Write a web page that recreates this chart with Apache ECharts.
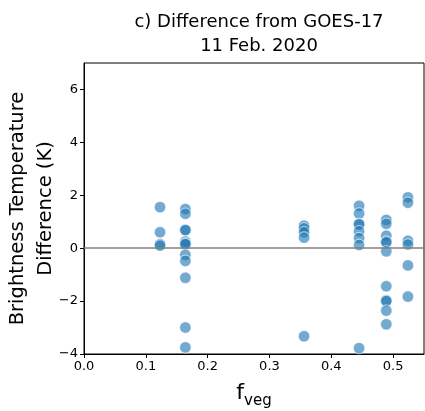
<!DOCTYPE html>
<html>
<head>
<meta charset="utf-8">
<script src="https://cdn.jsdelivr.net/npm/echarts@6/dist/echarts.min.js"></script>
<style>html,body{margin:0;padding:0;background:#fff}#c{width:425px;height:411px}</style>
</head>
<body>
<div id="c"></div>
<script>
// f_veg value of each site column
const fvegCols = [0.123, 0.164, 0.356, 0.445, 0.489, 0.524];
// Brightness temperature difference (K) at each column
const diffCol1 = [1.55, 0.60, 0.15, 0.10];
const diffCol2 = [1.48, 1.30, 0.70, 0.68, 0.25, 0.18, 0.15, -0.25, -0.48, -1.12, -3.00, -3.75];
const diffCol3 = [0.85, 0.75, 0.60, 0.40, -3.33];
const diffCol4 = [1.60, 1.31, 0.92, 0.90, 0.64, 0.38, 0.12, -3.78];
const diffCol5 = [1.07, 0.92, 0.47, 0.25, 0.22, -0.12, -1.44, -1.97, -2.00, -2.36, -2.88];
const diffCol6 = [1.92, 1.72, 0.28, 0.14, -0.65, -1.83];
const diffCols = [diffCol1, diffCol2, diffCol3, diffCol4, diffCol5, diffCol6];
const xTicks = [0.0, 0.1, 0.2, 0.3, 0.4, 0.5];
const yTicks = [-4, -2, 0, 2, 4, 6];

const points = [];
diffCols.forEach((col, i) => col.forEach(v => points.push([fvegCols[i], v])));

const font = 'DejaVu Sans';
const fmtMinus = s => String(s).replace('-', '\u2212');
const chart = echarts.init(document.getElementById('c'), null, {renderer: 'canvas'});
chart.setOption({
  animation: false,
  title: {
    text: 'c) Difference from GOES-17\n11 Feb. 2020',
    left: 254, top: 5, textAlign: 'center',
    textStyle: {fontFamily: font, fontSize: 18, fontWeight: 'normal', color: '#000', lineHeight: 24}
  },
  grid: {left: 84, right: 1, top: 63, bottom: 57, containLabel: false, outerBoundsMode: 'none',
    show: true, borderColor: '#000', borderWidth: 1, backgroundColor: 'transparent'},
  xAxis: {
    type: 'value', min: 0, max: 0.55, interval: 0.1,
    axisLine: {show: true, onZero: false, lineStyle: {color: '#000', width: 1}},
    axisTick: {show: true, length: 4, lineStyle: {color: '#000'}},
    splitLine: {show: false},
    axisLabel: {showMaxLabel: false, fontFamily: font, fontSize: 13, color: '#000', margin: 6,
      formatter: v => xTicks.some(t => Math.abs(t - v) < 1e-9) ? v.toFixed(1) : ''},
    name: '{a|f}{b|veg}', nameLocation: 'middle', nameGap: 24, nameMoveOverlap: false,
    nameTextStyle: {rich: {
      a: {fontFamily: font, fontSize: 22, color: '#000', verticalAlign: 'bottom', lineHeight: 26},
      b: {fontFamily: font, fontSize: 15, color: '#000', verticalAlign: 'bottom', lineHeight: 15, padding: [0, 0, -5, 0]}
    }}
  },
  yAxis: {
    type: 'value', min: -4, max: 7, interval: 2,
    axisLine: {show: true, onZero: false, lineStyle: {color: '#000', width: 1}},
    axisTick: {show: true, length: 4, lineStyle: {color: '#000'}},
    splitLine: {show: false},
    axisLabel: {showMaxLabel: false, fontFamily: font, fontSize: 13, color: '#000', margin: 6,
      formatter: v => yTicks.includes(v) ? fmtMinus(v) : ''},
    name: 'Brightness Temperature\nDifference (K)', nameLocation: 'middle', nameGap: 24, nameRotate: 90,
    nameMoveOverlap: false,
    nameTextStyle: {fontFamily: font, fontSize: 19.5, color: '#000', lineHeight: 28}
  },
  series: [{
    type: 'scatter',
    data: points,
    symbol: 'circle',
    symbolSize: 11.5,
    itemStyle: {color: 'rgba(31,119,180,0.78)', borderColor: '#fff', borderWidth: 0.8},
    markLine: {
      silent: true, symbol: 'none', label: {show: false},
      lineStyle: {color: '#808080', width: 1.5, type: 'solid'},
      data: [{yAxis: 0}]
    },
    z: 3
  }]
});
</script>
</body>
</html>
